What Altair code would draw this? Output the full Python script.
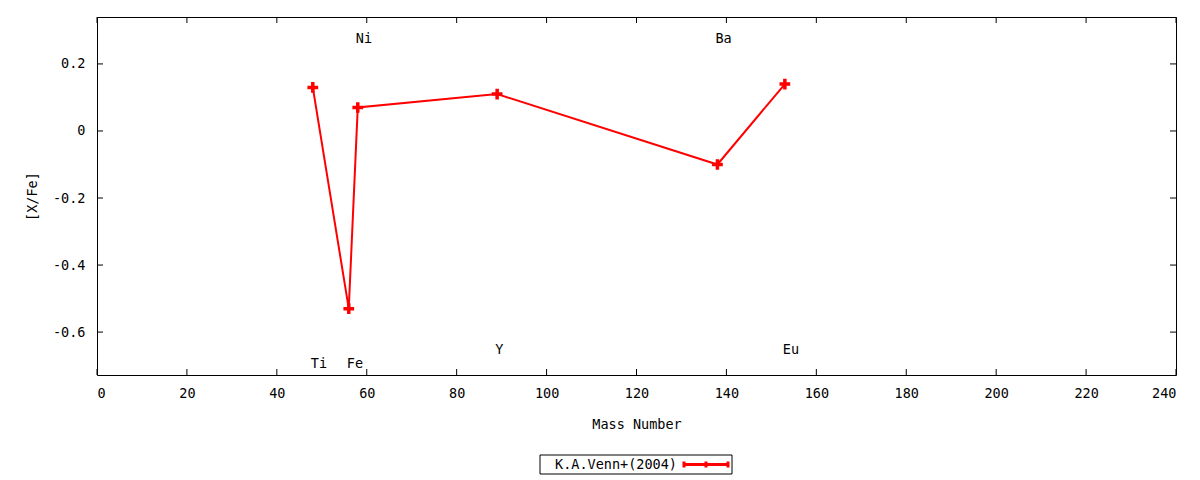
import altair as alt
import pandas as pd

# [X/Fe] abundances, K.A.Venn+(2004)
elements = ["Ti", "Fe", "Ni", "Y", "Ba", "Eu"]
mass_number = [48, 56, 58, 89, 138, 153]
x_fe = [0.13, -0.53, 0.07, 0.11, -0.10, 0.14]
# where each element name sits (data coords, as in "set label ... at")
label_y = [-0.69, -0.69, 0.28, -0.65, 0.28, -0.65]

x_ticks = list(range(0, 241, 20))
y_ticks = [-0.6, -0.4, -0.2, 0, 0.2]

series_name = ["K.A.Venn+(2004)"]

W, H = 1079, 358
FONT = "DejaVu Sans Mono"
FS = 13.5
RED = "#ff0000"

df = pd.DataFrame(
    {"element": elements, "mass": mass_number, "xfe": x_fe, "label_y": label_y}
)
xt = pd.DataFrame({"v": x_ticks})
yt = pd.DataFrame({"v": y_ticks})
leg = pd.DataFrame({"name": series_name})

x_scale = alt.Scale(domain=[0, 240], nice=False, zero=False)
y_scale = alt.Scale(domain=[-0.728, 0.34], nice=False, zero=False)

x_axis = alt.Axis(values=x_ticks, labelPadding=11, titlePadding=18)
y_axis = alt.Axis(
    values=y_ticks,
    format="~g",
    labelPadding=12,
    titlePadding=13,
    labelExpr="replace(datum.label, '\u2212', '-')",
)


def xenc(field):
    return alt.X(field, scale=x_scale, axis=x_axis, title="Mass Number")


def yenc(field):
    return alt.Y(field, scale=y_scale, axis=y_axis, title="[X/Fe]")


line = (
    alt.Chart(df)
    .mark_line(
        color=RED,
        strokeWidth=2,
        point=alt.OverlayMarkDef(
            shape="M-1,0L1,0M0,-1L0,1",
            size=115,
            filled=False,
            stroke=RED,
            strokeWidth=3.5,
            opacity=1,
        ),
    )
    .encode(xenc("mass:Q"), yenc("xfe:Q"))
)

labels = (
    alt.Chart(df)
    .mark_text(align="left", baseline="middle", dx=-2, dy=1.5, font=FONT, fontSize=FS, color="black")
    .encode(xenc("mass:Q"), yenc("label_y:Q"), alt.Text("element:N"))
)

# gnuplot style inward ticks on all four sides
ticks = (
    alt.Chart(xt).mark_rule(color="black").encode(xenc("v:Q"), y=alt.value(H), y2=alt.value(H - 6))
    + alt.Chart(xt).mark_rule(color="black").encode(xenc("v:Q"), y=alt.value(0), y2=alt.value(6))
    + alt.Chart(yt).mark_rule(color="black").encode(yenc("v:Q"), x=alt.value(0), x2=alt.value(6))
    + alt.Chart(yt).mark_rule(color="black").encode(yenc("v:Q"), x=alt.value(W - 6), x2=alt.value(W))
)

# key box below the plot
key = (
    alt.Chart(leg)
    .mark_rect(fill="white", stroke="black", strokeWidth=1)
    .encode(x=alt.value(443), x2=alt.value(635), y=alt.value(438), y2=alt.value(457))
    + alt.Chart(leg)
    .mark_text(align="left", baseline="middle", font=FONT, fontSize=FS, color="black")
    .encode(x=alt.value(458), y=alt.value(448), text="name:N")
    + alt.Chart(leg)
    .mark_point(
        shape="M-1,0L1,0M-1,-0.14L-1,0.14M0,-0.14L0,0.14M1,-0.14L1,0.14",
        size=44 * 44,
        filled=False,
        stroke=RED,
        strokeWidth=3,
        opacity=1,
    )
    .encode(x=alt.value(609), y=alt.value(447.5))
)

chart = (
    alt.layer(line, labels, ticks, key)
    .properties(
        width=W,
        height=H,
        padding={"left": 89, "top": 9, "right": 16, "bottom": 100},
        autosize=alt.AutoSizeParams(type="none"),
    )
    .configure_view(stroke="black", strokeWidth=1)
    .configure_axis(
        domain=False,
        ticks=False,
        tickSize=0,
        grid=False,
        labelFont=FONT,
        labelFontSize=FS,
        labelColor="black",
        titleFont=FONT,
        titleFontSize=FS,
        titleColor="black",
        titleFontWeight="normal",
    )
)

chart.save("out.html", embed_options={"renderer": "svg", "actions": False})
